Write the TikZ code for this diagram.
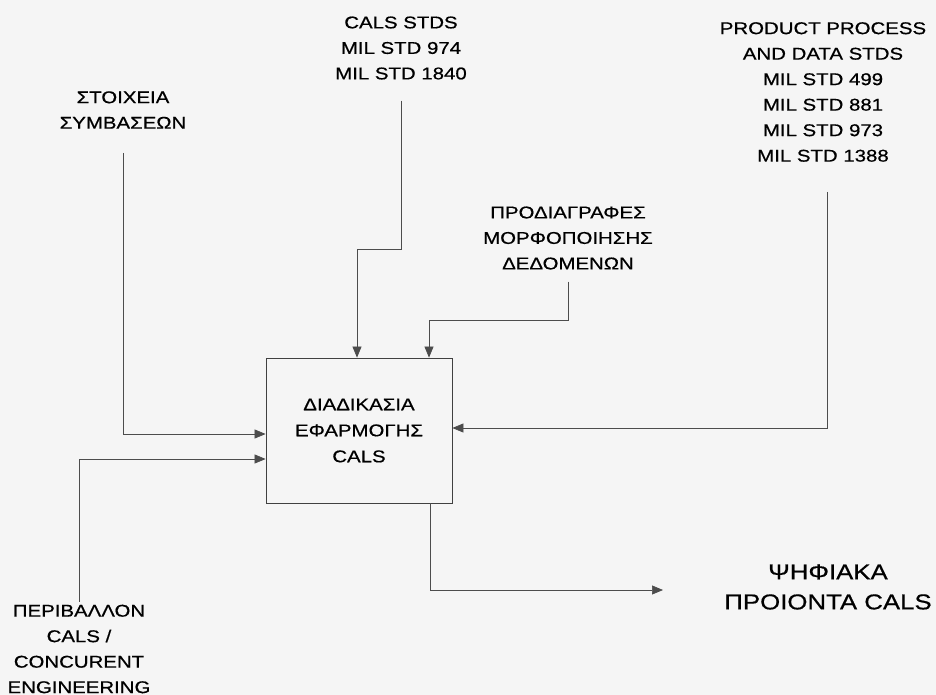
\documentclass[tikz,border=0pt]{standalone}
\usepackage{fontspec}
\setmainfont{Liberation Sans}[FakeStretch=1.2, FakeBold=0.6]
\usetikzlibrary{calc, positioning, arrows.meta}

\begin{document}
\begin{tikzpicture}[x=1pt, y=-1pt,
    lbl/.style={align=center, inner sep=0pt, font=\fontsize{17}{25.5}\selectfont},
    biglbl/.style={align=center, inner sep=0pt, font=\fontsize{21.5}{30}\selectfont},
    procbox/.style={draw=black!75, line width=0.8pt, minimum width=186pt, minimum height=145pt, align=center, inner sep=0pt, font=\fontsize{17}{26}\selectfont},
    flow/.style={draw=black!70, line width=0.7pt, -{Triangle[length=11pt, width=9pt]}}]
          \fill[black!4] (0,0) rectangle (936,695);
          \node[procbox] (proc) at (359,430.5) {ΔΙΑΔΙΚΑΣΙΑ\\ΕΦΑΡΜΟΓΗΣ\\CALS};
          \node[lbl] (stoix) at (123,110) {ΣΤΟΙΧΕΙΑ\\ΣΥΜΒΑΣΕΩΝ};
          \node[lbl] (calsstd) at (401,48) {CALS STDS\\MIL STD 974\\MIL STD 1840};
          \node[lbl] (prodstd) at (823,92) {PRODUCT PROCESS\\AND DATA STDS\\MIL STD 499\\MIL STD 881\\MIL STD 973\\MIL STD 1388};
          \node[lbl] (prodiagr) at (568,238) {ΠΡΟΔΙΑΓΡΑΦΕΣ\\ΜΟΡΦΟΠΟΙΗΣΗΣ\\ΔΕΔΟΜΕΝΩΝ};
          \node[lbl] (perib) at (79,649) {ΠΕΡΙΒΑΛΛΟΝ\\CALS /\\CONCURENT\\ENGINEERING};
          \node[biglbl] (psifiaka) at (828,587) {ΨΗΦΙΑΚΑ\\ΠΡΟΙΟΝΤΑ CALS};
          % bends and free end
          \coordinate (calsbend) at (401,249);
          \coordinate (prodbend) at (568,320);
          \coordinate (outend) at (663,590);
          \draw[flow] ([yshift=-24pt]stoix.south) |- ([yshift=-3.5pt]proc.west);
          \draw[flow] ([yshift=3pt]perib.north) |- ([yshift=-28.5pt]proc.west);
          \draw[flow] ([yshift=-21pt]calsstd.south) -- (calsbend) -| ([xshift=-2pt]proc.north);
          \draw[flow] ([yshift=-12pt]prodiagr.south) -- (prodbend) -| ([xshift=70pt]proc.north);
          \draw[flow] ([shift={(4pt,-30pt)}]prodstd.south) |- ([yshift=2.5pt]proc.east);
          \draw[flow] ([xshift=71pt]proc.south) |- (outend);
      \end{tikzpicture}
\end{document}
